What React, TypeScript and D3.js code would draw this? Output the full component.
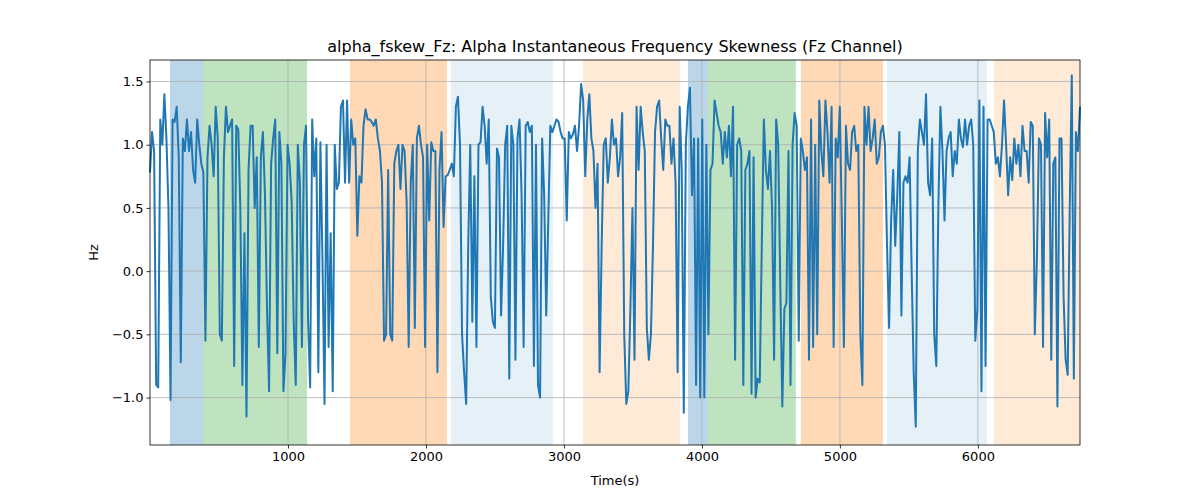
import React, { useEffect, useRef } from 'react';
import * as d3 from 'd3';

const T_END = 6740;

const values: number[] = [
  0.78, 1.1, 0.95, -0.9, -0.92, 1.2, 1.0, 1.4, 1.05, 0.5, -1.02, 1.2, 1.18, 1.3, 0.9, -0.72, 1.05, 0.95, 1.2, 0.95,
  1.1, 0.8, 0.7, 1.2, 1.0, 0.85, 0.78, -0.55, 0.9, 1.15, 1.0, 0.75, 1.3, 1.05, -0.5, -0.55, 0.9, 1.3, 1.1, 1.15,
  1.2, -0.75, 1.15, 1.12, 0.5, -0.9, 0.3, -1.15, 0.8, 1.15, 1.15, 0.5, 0.9, -0.6, 0.9, 1.1, 0.6, -0.3, -0.95, 0.85,
  1.05, 1.2, -0.65, 1.1, 0.85, -0.95, -0.65, 1.0, 0.85, 0.55, -0.4, -0.9, 1.0, 0.7, -0.6, 1.0, 1.15, -0.4, -0.92, 1.2,
  0.75, 1.05, -0.8, 1.02, 0.1, -1.05, 1.0, -0.6, 0.3, -0.95, 1.0, 0.65, 0.7, 1.3, 1.35, 0.7, 1.35, 0.7, 1.2, 1.0,
  1.05, 0.28, 0.75, 0.7, 1.15, 1.28,
  1.2, 1.2, 1.18, 1.15, 1.2, 1.05, 0.95, 0.7, -0.55, -0.5, 0.8, -0.5, -0.55, 0.85, 0.95, 1.0, 0.65, 1.0, 0.95, 0.55,
  -0.6, 0.7, 1.0, -0.45, 1.05, 1.15, 1.0, 0.9, -0.6, 1.0, 0.4, 1.02, 0.95, 0.95, -0.8, 0.8, 1.1, 0.35, 0.75, 0.76,
  0.8, 0.85, 0.75, 1.3, 1.38, 1.0, -0.5, -0.8, -1.05, 0.2, 1.0, -0.4, 0.75, -0.6, 1.0, 1.02, 1.3, 1.15, 0.85, 1.2,
  -0.2, -0.4, -0.45, 0.97, 0.9, -0.35, 0.2, 1.0, 1.15, -0.85, 1.15, 1.0, -0.7, 1.05, 1.2, 0.6, -0.6, 1.15, 1.18, 1.1,
  1.15, -0.75, 1.0, -0.9, -1.0, 1.05, 0.6, -0.35, 0.4, 1.15, 1.1, 1.15, 1.2, 1.18, 1.1, 1.05, 1.05, 0.4, 1.1, 1.05,
  1.08, 1.15, 0.95, 1.15, 1.48, 1.35, 0.75, 1.2, 1.4, 1.05, 0.95, 0.5, 0.85, -0.8, 0.2, 1.0, 1.05, 0.7, 0.9, 1.2,
  1.0, 1.05, 0.75, 0.9, 1.25, -0.5, -1.05, -0.95, -0.3, 0.5, -0.7, 1.3, 0.8, 1.3, 1.1, 0.95, -0.45, -0.7, -0.5, 0.2,
  1.1, 1.3, 1.35, 1.05, 0.8, 1.2, 1.15, 1.15, 0.85, 1.05, 0.7, -0.8, 1.3, 0.8, -1.12, 1.0, 1.3, 1.45, 0.6, 1.05,
  -0.9, 1.05, -1.0, 1.2, -1.0, 1.0, -0.5, 0.8, 0.85, 1.35, 1.25, 1.15, 1.1, 0.85, 1.1, 0.9, 1.15, 0.75, 1.3, -0.7,
  1.0, 1.05, 0.95, -0.9, 0.8, 0.85, 0.95, -0.97, 0.9, -1.0, -0.85, -0.88, 0.2, 1.2, 0.8, 0.65, 0.95, 0.5, -0.7, 1.2,
  1.0, -0.1, -1.07, -0.3, -0.25, 0.95, -0.9, 1.0, 1.25, 1.15, -0.55, 1.05, 0.95, 0.8, 0.9, -0.7, 1.2, -0.6, 1.0, -0.5,
  1.35, 0.95, 0.75, 1.35, 1.1, 0.7, 1.3, -0.6, 1.05, 0.9,
  1.3, 0.4, -0.6, 1.15, 0.85, 0.8, 1.1, 1.15, 0.95, 1.0, -0.5, -0.9, 1.3, 1.0, 1.3, 0.95, 1.05, 1.2, 0.85, 0.9,
  1.1, 1.15, 1.0, 0.2, -0.45, 0.4, 0.8, 0.2, 0.6, 1.1, -0.35, 0.7, 0.75, 0.7, 0.9, 0.0, -0.8, -1.23, 0.95, 1.2,
  1.1, 1.0, 1.4, 0.7, 0.6, 1.05, -0.5, -0.75, 0.5, 1.3, 0.95, 0.4, 0.95, 1.05, 1.1, 0.75, 0.95, 0.85, 1.2, 1.05,
  0.98, 1.2, 1.0, 1.15, 1.2, 1.0, -0.55, -0.3, 1.35, -0.95, 1.3, -0.75, 1.2, 1.2, 1.15, 1.1, 0.85, 0.9, 0.75, 1.0,
  1.35, 1.0, 0.6, 0.9, 0.72, 1.05, 0.85, 1.0, 0.75, 1.15, 0.95, 0.95, 0.7, 1.18, 1.15, -0.5, 0.1, 1.05, 1.0, -0.6,
  1.25, 0.9, 1.2, -0.7, 0.85, 0.9, -1.07, 1.05, 1.05, -0.2, -0.7, -0.82, 0.5, 1.55, -0.85, 1.1, 0.95, 1.3,
];

// shaded stages: [start, end, colour, opacity]
const spans: [number, number, string, number][] = [
  [145, 384, '#1f77b4', 0.3],
  [384, 1138, '#2ca02c', 0.3],
  [1449, 2152, '#ff7f0e', 0.3],
  [2181, 2920, '#1f77b4', 0.11],
  [3138, 3841, '#ff7f0e', 0.16],
  [3899, 4043, '#1f77b4', 0.3],
  [4043, 4681, '#2ca02c', 0.3],
  [4717, 5312, '#ff7f0e', 0.3],
  [5341, 6065, '#1f77b4', 0.11],
  [6116, 6740, '#ff7f0e', 0.16],
];

const xTicks = [1000, 2000, 3000, 4000, 5000, 6000];
const yTicks = [-1.0, -0.5, 0.0, 0.5, 1.0, 1.5];

const W = 1200;
const H = 500;
const M = { top: 60, right: 120, bottom: 55, left: 150 };

const App: React.FC = () => {
  const ref = useRef<SVGSVGElement>(null);

  useEffect(() => {
    if (!ref.current) return;
    const root = d3.select(ref.current);
    root.selectAll('*').remove();
    const iw = W - M.left - M.right;
    const ih = H - M.top - M.bottom;
    const g = root.append('g').attr('transform', `translate(${M.left},${M.top})`);

    const step = T_END / (values.length - 1);
    const x = d3.scaleLinear().domain([0, T_END]).range([0, iw]);
    const y = d3.scaleLinear().domain([-1.375, 1.67]).range([ih, 0]);

    g.selectAll('.span')
      .data(spans)
      .enter()
      .append('rect')
      .attr('x', d => x(d[0]))
      .attr('width', d => x(d[1]) - x(d[0]))
      .attr('y', 0)
      .attr('height', ih)
      .attr('fill', d => d[2])
      .attr('fill-opacity', d => d[3]);

    g.selectAll('.gx')
      .data(xTicks)
      .enter()
      .append('line')
      .attr('x1', d => x(d))
      .attr('x2', d => x(d))
      .attr('y1', 0)
      .attr('y2', ih)
      .attr('stroke', '#b0b0b0')
      .attr('stroke-width', 0.8);
    g.selectAll('.gy')
      .data(yTicks)
      .enter()
      .append('line')
      .attr('y1', d => y(d))
      .attr('y2', d => y(d))
      .attr('x1', 0)
      .attr('x2', iw)
      .attr('stroke', '#b0b0b0')
      .attr('stroke-width', 0.8);

    const line = d3
      .line<number>()
      .x((_d, i) => x(i * step))
      .y(d => y(d));
    g.append('path')
      .datum(values)
      .attr('d', line)
      .attr('fill', 'none')
      .attr('stroke', '#1f77b4')
      .attr('stroke-width', 2)
      .attr('stroke-linejoin', 'round');

    g.append('rect')
      .attr('width', iw)
      .attr('height', ih)
      .attr('fill', 'none')
      .attr('stroke', '#000')
      .attr('stroke-width', 0.8);

    const xa = g
      .append('g')
      .attr('transform', `translate(0,${ih})`)
      .call(d3.axisBottom(x).tickValues(xTicks).tickFormat(d3.format('d')).tickSize(3.5).tickPadding(3));
    const ya = g
      .append('g')
      .call(d3.axisLeft(y).tickValues(yTicks).tickFormat(d3.format('.1f')).tickSize(3.5).tickPadding(3));
    [xa, ya].forEach(a => {
      a.select('.domain').remove();
      a.selectAll('text').style('font-size', '13px').style('font-family', 'DejaVu Sans').attr('fill', '#000');
      a.selectAll('line').attr('stroke', '#000').attr('stroke-width', 0.8);
    });
    // matplotlib uses a true minus sign
    ya.selectAll('text').text(d => d3.format('.1f')(d as number).replace('-', '\u2212'));

    const font = 'DejaVu Sans';
    g.append('text')
      .attr('x', iw / 2)
      .attr('y', -8)
      .attr('text-anchor', 'middle')
      .style('font-family', font)
      .style('font-size', '16px')
      .text('alpha_fskew_Fz: Alpha Instantaneous Frequency Skewness (Fz Channel)');
    g.append('text')
      .attr('x', iw / 2)
      .attr('y', ih + 40)
      .attr('text-anchor', 'middle')
      .style('font-family', font)
      .style('font-size', '13px')
      .text('Time(s)');
    g.append('text')
      .attr('transform', `translate(${-52},${ih / 2}) rotate(-90)`)
      .attr('text-anchor', 'middle')
      .style('font-family', font)
      .style('font-size', '13px')
      .text('Hz');
  }, []);

  return (
    <div style={{ position: 'absolute', left: 0, top: 0 }}>
      <svg ref={ref} width={W} height={H} style={{ display: 'block', background: '#fff' }} />
    </div>
  );
};

export default App;
